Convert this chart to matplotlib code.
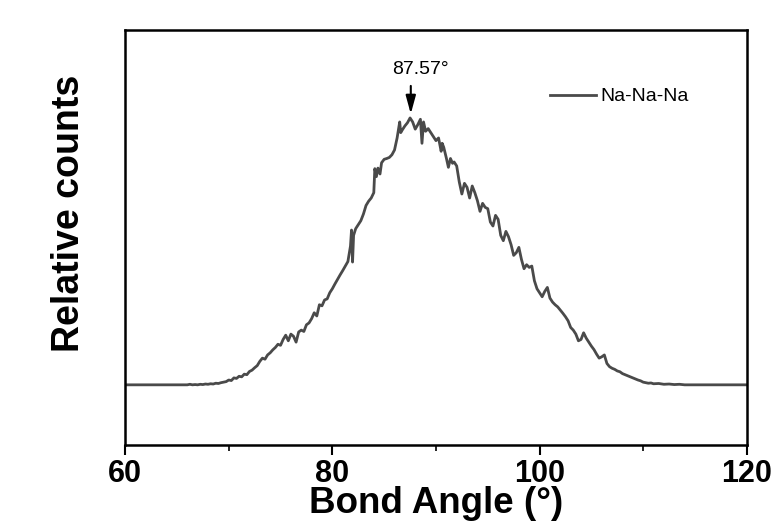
import numpy as np
import matplotlib.pyplot as plt
from matplotlib.ticker import MultipleLocator

plt.rcParams['font.family'] = ['Liberation Sans', 'DejaVu Sans']

# bond angle distribution (counts normalised to peak = 1)
angle = [60.0, 66.0, 66.25, 66.5, 66.75, 67.0, 67.25, 67.5, 67.75, 68.0, 68.25, 68.5, 68.75,
         69.0, 69.25, 69.5, 69.75, 70.0, 70.25, 70.5, 70.75, 71.0, 71.25, 71.5, 71.75,
         72.0, 72.25, 72.5, 72.75, 73.0, 73.25, 73.5, 73.75, 74.0, 74.25, 74.5, 74.75,
         75.0, 75.25, 75.5, 75.75, 76.0, 76.25, 76.5, 76.75, 77.0, 77.25, 77.5, 77.75,
         78.0, 78.25, 78.5, 78.75, 79.0, 79.25, 79.5, 79.75, 80.0, 80.25, 80.5, 80.75,
         81.0, 81.25, 81.5, 81.75, 81.85, 81.95, 82.05, 82.25, 82.5, 82.75, 83.0, 83.25,
         83.5, 83.75, 84.0, 84.1, 84.25, 84.4, 84.6, 84.75, 85.0, 85.25, 85.5, 85.75,
         86.0, 86.25, 86.5, 86.6, 86.75, 87.0, 87.25, 87.5, 87.75, 88.0, 88.25, 88.5,
         88.65, 88.8, 89.0, 89.25, 89.5, 89.75, 90.0, 90.25, 90.5, 90.6, 90.75, 91.0,
         91.2, 91.4, 91.6, 91.75, 92.0, 92.25, 92.5, 92.75, 93.0, 93.25, 93.5, 93.75,
         94.0, 94.25, 94.5, 94.75, 95.0, 95.25, 95.5, 95.75, 96.0, 96.25, 96.5, 96.75,
         97.0, 97.25, 97.5, 97.75, 98.0, 98.25, 98.5, 98.75, 99.0, 99.25, 99.5, 99.75,
         100.0, 100.25, 100.5, 100.75, 101.0, 101.25, 101.5, 101.75, 102.0, 102.25, 102.5, 102.75,
         103.0, 103.25, 103.5, 103.75, 104.0, 104.25, 104.5, 104.75, 105.0, 105.25, 105.5, 105.75,
         106.0, 106.25, 106.5, 106.75, 107.0, 107.25, 107.5, 107.75, 108.0, 108.25, 108.5, 108.75,
         109.0, 109.25, 109.5, 109.75, 110.0, 110.25, 110.5, 110.75, 111.0, 111.5, 112.0, 112.5,
         113.0, 113.5, 114.0, 120.0]
counts = [0.000, 0.000, 0.002, 0.000, 0.001, 0.000, 0.002, 0.001, 0.003, 0.002, 0.004, 0.003, 0.006,
          0.005, 0.008, 0.010, 0.012, 0.018, 0.016, 0.026, 0.024, 0.032, 0.030, 0.040, 0.038,
          0.050, 0.055, 0.064, 0.072, 0.088, 0.100, 0.096, 0.112, 0.120, 0.131, 0.140, 0.152,
          0.148, 0.170, 0.186, 0.165, 0.190, 0.182, 0.160, 0.198, 0.205, 0.200, 0.225, 0.232,
          0.248, 0.270, 0.258, 0.300, 0.296, 0.318, 0.322, 0.345, 0.360, 0.378, 0.395, 0.412,
          0.428, 0.445, 0.462, 0.520, 0.580, 0.460, 0.560, 0.585, 0.600, 0.615, 0.640, 0.672,
          0.688, 0.700, 0.720, 0.810, 0.780, 0.812, 0.790, 0.832, 0.845, 0.848, 0.852, 0.862,
          0.880, 0.925, 0.985, 0.945, 0.955, 0.970, 0.982, 1.000, 0.985, 0.958, 0.975, 0.995,
          0.905, 0.985, 0.950, 0.960, 0.945, 0.930, 0.915, 0.925, 0.875, 0.905, 0.890, 0.850,
          0.815, 0.848, 0.830, 0.835, 0.820, 0.760, 0.715, 0.755, 0.740, 0.700, 0.745, 0.720,
          0.690, 0.650, 0.680, 0.665, 0.660, 0.610, 0.595, 0.635, 0.620, 0.560, 0.540, 0.575,
          0.555, 0.525, 0.485, 0.495, 0.515, 0.470, 0.435, 0.450, 0.440, 0.445, 0.390, 0.360,
          0.345, 0.330, 0.350, 0.365, 0.325, 0.310, 0.300, 0.292, 0.280, 0.268, 0.255, 0.240,
          0.215, 0.205, 0.190, 0.165, 0.170, 0.195, 0.175, 0.160, 0.145, 0.132, 0.115, 0.100,
          0.105, 0.112, 0.080, 0.068, 0.062, 0.058, 0.052, 0.049, 0.042, 0.038, 0.034, 0.030,
          0.026, 0.022, 0.018, 0.015, 0.010, 0.008, 0.006, 0.007, 0.004, 0.005, 0.002, 0.003,
          0.001, 0.002, 0.000, 0.000]

peak_angle = 87.57
x_ticks = [60, 80, 100, 120]

fig = plt.figure(figsize=(7.82, 5.24), dpi=100)
ax = fig.add_axes([0.160, 0.151, 0.795, 0.792])

ax.plot(angle, counts, color='#4a4a4a', lw=2.0, label='Na-Na-Na')

ax.annotate('', xy=(peak_angle, 1.015), xytext=(peak_angle, 1.12),
            arrowprops=dict(arrowstyle='-|>,head_length=1.1,head_width=0.3',
                            color='black', lw=1.5, shrinkA=0, shrinkB=0))
ax.text(88.5, 1.18, '87.57°', ha='center', va='center', fontsize=14)

ax.set_xlim(60, 120)
ax.set_ylim(-0.225, 1.33)
ax.set_xticks(x_ticks)
ax.xaxis.set_minor_locator(MultipleLocator(10))
ax.set_yticks([])
ax.tick_params(axis='x', which='major', direction='out', length=7, width=1.5,
               labelsize=22, pad=3)
ax.tick_params(axis='x', which='minor', direction='out', length=4, width=1.2)
for lab in ax.get_xticklabels():
    lab.set_fontweight('bold')
for sp in ax.spines.values():
    sp.set_linewidth(1.8)

ax.set_xlabel('Bond Angle (°)', fontsize=26.5, fontweight='bold', labelpad=-2)
ax.set_ylabel('Relative counts', fontsize=27, fontweight='bold')
ax.yaxis.set_label_coords(-0.062, 0.557)

ax.legend(loc='center left', bbox_to_anchor=(0.683, 0.839), frameon=False,
          fontsize=14, handlelength=2.4, handletextpad=0.2,
          borderpad=0, borderaxespad=0)

fig.savefig('out.png', dpi=100)
